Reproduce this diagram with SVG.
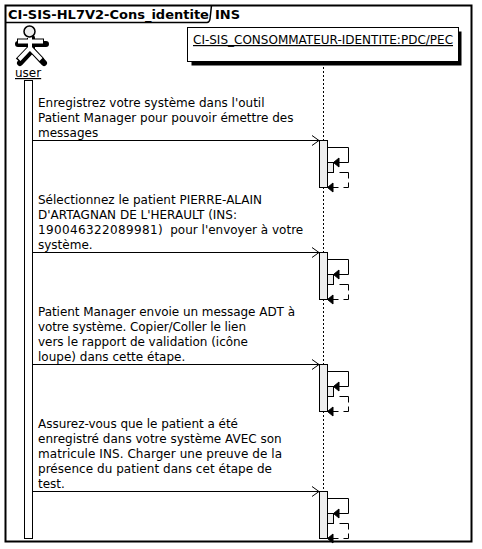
<svg xmlns="http://www.w3.org/2000/svg" width="482" height="549" viewBox="0 0 482 549">
<defs>
<style>
text{font-family:"DejaVu Sans",sans-serif;font-size:12px;fill:#000}
.b{font-weight:bold;font-size:13px}
.ln{fill:none;stroke:#000;stroke-width:1}
.act{fill:#eee;stroke:#000;stroke-width:1}
.ah{fill:#000;stroke:#000}
</style>
<g id="self">
<rect class="act" x="0" y="0" width="8" height="47"/>
<rect class="act" x="8" y="22" width="6" height="10"/>
<polyline class="ln" points="8,7 29,7 29,22 14,22"/>
<polygon class="ah" points="14,22 19.500,17.500 19.500,26.500"/>
<path class="ln" d="M20,32 H29 V38 M29,42 V47 H24 M19,47 H8"/>
<polygon class="ah" points="8,47 13.500,42.500 13.500,51.500"/>
</g>
</defs>
<rect width="482" height="549" fill="#fff"/>
<g id="frame">
<rect x="5.500" y="5.500" width="466" height="536" fill="none" stroke="#000" stroke-width="2"/>
<path d="M5.500,22.500 H207 Q209.500,22.500 210,19 L211.500,5.500" fill="none" stroke="#000" stroke-width="1.500"/>
<text class="b" x="8" y="19">CI-SIS-HL7V2-Cons_identite</text>
<text class="b" x="215" y="19">INS</text>
</g>
<g id="connectors">
<line x1="323.500" y1="63" x2="323.500" y2="140" stroke="#000" stroke-dasharray="2,2"/>
<line x1="323.500" y1="187" x2="323.500" y2="252" stroke="#000" stroke-dasharray="2,2"/>
<line x1="323.500" y1="299" x2="323.500" y2="364" stroke="#000" stroke-dasharray="2,2"/>
<line x1="323.500" y1="411" x2="323.500" y2="491" stroke="#000" stroke-dasharray="2,2"/>
<path class="ln" d="M32,140.500 H319 M312,135.500 L319,140.500 L312,145.500"/>
<path class="ln" d="M32,252.500 H319 M312,247.500 L319,252.500 L312,257.500"/>
<path class="ln" d="M32,364.500 H319 M312,359.500 L319,364.500 L312,369.500"/>
<path class="ln" d="M32,491.500 H319 M312,486.500 L319,491.500 L312,496.500"/>
</g>
<g id="user">
<g stroke="#000" fill="none" stroke-linecap="round">
<path d="M18,44 H46 M32,38 V50 L20,63 M32,50 L44,63" stroke-width="6"/>
<path d="M17,41.500 H44 M30,38 V48 L18,60.500 M30,48 L42,60.500" stroke-width="6" stroke-linecap="butt"/>
<path d="M18,41.500 H43 M30,36 V48 L19,59.500 M30,48 L41,59.500" stroke="#fff" stroke-width="4" stroke-linecap="butt"/>
</g>
<circle cx="29.500" cy="31.500" r="5.500" fill="#eee" stroke="#000" stroke-width="1.500"/>
<text x="15" y="77" text-decoration="underline">user</text>
<rect x="24.500" y="80.500" width="8" height="458" fill="#fff" stroke="#000"/>
</g>
<g id="consommateur">
<rect x="191.500" y="31.500" width="270" height="34" fill="#000"/>
<rect x="187.500" y="27.500" width="271" height="34" fill="#fff" stroke="#000"/>
<text x="193" y="44" text-decoration="underline">CI-SIS_CONSOMMATEUR-IDENTITE:PDC/PEC</text>
</g>
<g id="activation1"><use href="#self" x="319.500" y="140.500"/></g>
<g id="activation2"><use href="#self" x="319.500" y="252.500"/></g>
<g id="activation3"><use href="#self" x="319.500" y="364.500"/></g>
<g id="activation4"><use href="#self" x="319.500" y="491.500"/></g>
<g id="msg1">
<text x="38" y="107">Enregistrez votre système dans l'outil</text>
<text x="38" y="122">Patient Manager pour pouvoir émettre des</text>
<text x="38" y="137">messages</text>
</g>
<g id="msg2">
<text x="38" y="204">Sélectionnez le patient PIERRE-ALAIN</text>
<text x="38" y="219">D'ARTAGNAN DE L'HERAULT (INS:</text>
<text x="38" y="234" xml:space="preserve"><tspan letter-spacing="0.36">190046322089981</tspan>)  pour l'envoyer à votre</text>
<text x="38" y="249">système.</text>
</g>
<g id="msg3">
<text x="38" y="316" textLength="257">Patient Manager envoie un message ADT à</text>
<text x="38" y="331" textLength="208">votre système. Copier/Coller le lien</text>
<text x="38" y="346" textLength="210">vers le rapport de validation (icône</text>
<text x="38" y="361">loupe) dans cette étape.</text>
</g>
<g id="msg4">
<text x="38" y="428" textLength="200">Assurez-vous que le patient a été</text>
<text x="38" y="443">enregistré dans votre système AVEC son</text>
<text x="38" y="458" textLength="244">matricule INS. Charger une preuve de la</text>
<text x="38" y="473" textLength="234">présence du patient dans cet étape de</text>
<text x="38" y="488">test.</text>
</g>
</svg>
